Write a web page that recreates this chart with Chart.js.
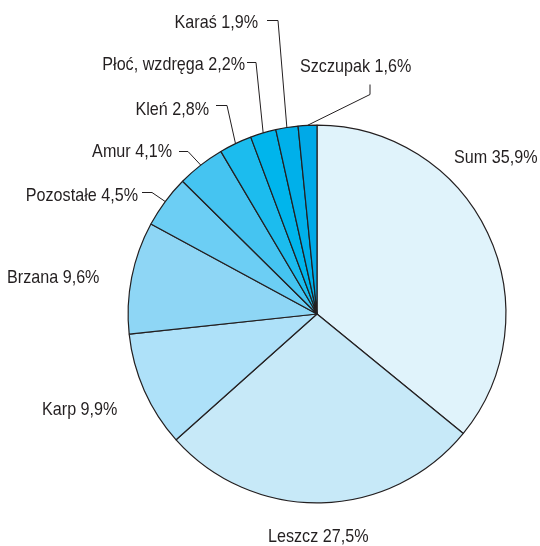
<!DOCTYPE html>
<html>
<head>
<meta charset="utf-8">
<script src="https://cdn.jsdelivr.net/npm/chart.js@4"></script>
<style>
  html, body { margin: 0; padding: 0; background: #fff; }
  #wrap { width: 540px; height: 546px; }
</style>
</head>
<body>
<div id="wrap"><canvas id="c" width="540" height="546"></canvas></div>
<script>
const categories = ['Sum', 'Leszcz', 'Karp', 'Brzana', 'Pozostałe', 'Amur', 'Kleń', 'Płoć, wzdręga', 'Karaś', 'Szczupak'];
const shares = [35.9, 27.5, 9.9, 9.6, 4.5, 4.1, 2.8, 2.2, 1.9, 1.6];
const sliceColors = ['#e0f3fb', '#c7e9f8', '#aee1f9', '#8ed6f5', '#6ccef4', '#45c4f1', '#1cbcee', '#00b5ec', '#00b0ea', '#00a9e7'];

// label placement: [x, baseline y, align, leader elbow points]
const labelPos = [
  [454, 163, 'left', null],
  [268, 542, 'left', null],
  [42, 415, 'left', null],
  [7, 283, 'left', null],
  [138, 201, 'right', [[142, 192], [152, 192]]],
  [172, 157, 'right', [[179, 151], [188, 151]]],
  [209, 115, 'right', [[216, 105], [227, 105]]],
  [245, 70, 'right', [[247, 62], [256, 62]]],
  [258, 28, 'right', [[267, 20], [278, 20]]],
  [300, 72, 'left', [[370, 84], [370, 94]]]
];

function fmt(v) {
  return v.toFixed(1).replace('.', ',') + '%';
}

const labelPlugin = {
  id: 'sliceLabels',
  afterDraw(chart) {
    const ctx = chart.ctx;
    const arcs = chart.getDatasetMeta(0).data;
    ctx.save();
    ctx.font = '19px "Liberation Sans", Arial, sans-serif';
    ctx.fillStyle = '#231f20';
    ctx.strokeStyle = '#231f20';
    ctx.lineWidth = 1;
    ctx.textBaseline = 'alphabetic';
    arcs.forEach((arc, i) => {
      const p = labelPos[i];
      ctx.save();
      ctx.translate(p[0], p[1]);
      ctx.scale(0.85, 1); // condensed look
      ctx.textAlign = p[2];
      ctx.fillText(categories[i] + ' ' + fmt(shares[i]), 0, 0);
      ctx.restore();
      if (p[3]) {
        const a = (arc.startAngle + arc.endAngle) / 2;
        const ex = arc.x + Math.cos(a) * arc.outerRadius;
        const ey = arc.y + Math.sin(a) * arc.outerRadius;
        ctx.beginPath();
        ctx.moveTo(p[3][0][0], p[3][0][1] + 0.5);
        ctx.lineTo(p[3][1][0], p[3][1][1] + 0.5);
        ctx.lineTo(ex, ey);
        ctx.stroke();
      }
    });
    ctx.restore();
  }
};

new Chart(document.getElementById('c'), {
  type: 'pie',
  data: {
    labels: categories,
    datasets: [{
      data: shares,
      backgroundColor: sliceColors,
      borderColor: '#231f20',
      borderWidth: 1.2
    }]
  },
  options: {
    responsive: false,
    animation: false,
    layout: { padding: { left: 127.5, right: 33.5, top: 124.5, bottom: 42.5 } },
    plugins: {
      legend: { display: false },
      tooltip: { enabled: false }
    }
  },
  plugins: [labelPlugin]
});
</script>
</body>
</html>
